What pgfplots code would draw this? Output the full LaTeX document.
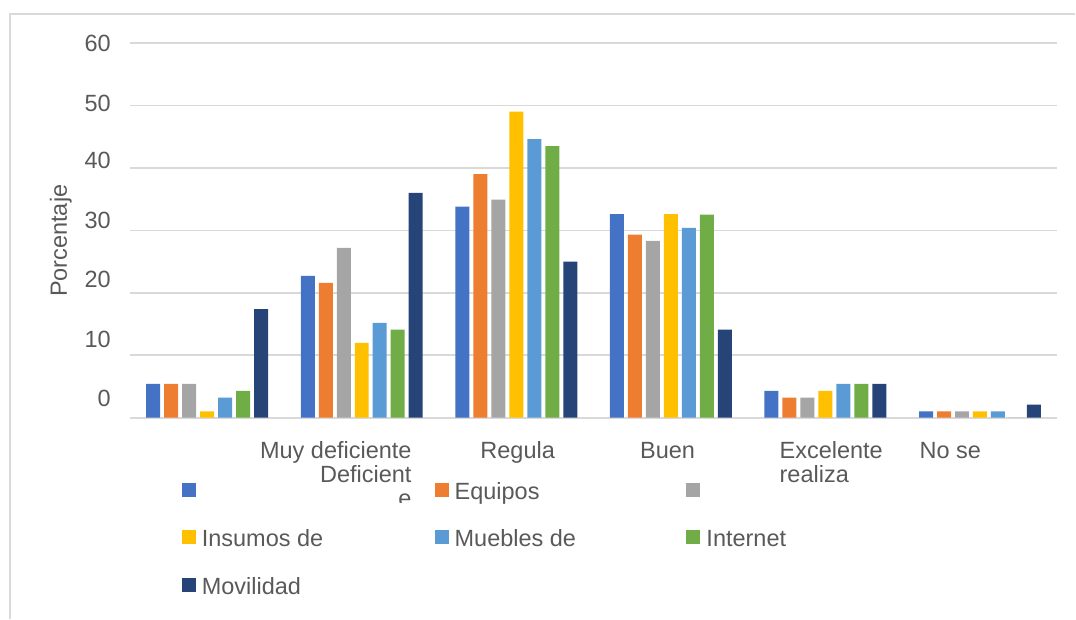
\documentclass[border=0pt]{standalone}
\usepackage{fontspec}
\setmainfont{Liberation Sans}
\usepackage{pgfplots}
\pgfplotsset{compat=1.18}

\definecolor{cBlue}{HTML}{4472C4}
\definecolor{cOrange}{HTML}{ED7D31}
\definecolor{cGray}{HTML}{A5A5A5}
\definecolor{cYellow}{HTML}{FFC000}
\definecolor{cLblue}{HTML}{5B9BD5}
\definecolor{cGreen}{HTML}{70AD47}
\definecolor{cNavy}{HTML}{264478}
\definecolor{txt}{HTML}{595959}
\definecolor{gridc}{HTML}{D9D9D9}

\newcommand{\fs}{\fontsize{23.5}{28}\selectfont}

\begin{document}
\begin{tikzpicture}[font=\fs, text=txt]
\path (0pt,0pt) rectangle (1076pt,-619pt);
\draw[gridc, line width=1.5pt] (10pt,-619pt) -- (10pt,-14pt) -- (1076pt,-14pt);

\begin{axis}[
    at={(130pt,-418pt)}, anchor=south west,
    scale only axis, width=928pt, height=375pt,
    xmin=-0.5, xmax=5.5, ymin=0, ymax=60,
    ybar=4pt, bar width=14pt,
    axis line style={draw=none},
    tick style={draw=none},
    xtick=\empty,
    % labels sit a little off the grid lines, as in the original
    ytick={3.12,12.56,22.16,31.52,41.12,50.4,59.92},
    yticklabels={0,10,20,30,40,50,60},
    yticklabel style={inner sep=0pt, anchor=east, xshift=-19pt, font=\fs, text=txt},
    /pgf/number format/assume math mode=true,
    extra y ticks={0,10,20,30,40,50,60},
    extra y tick labels={},
    extra y tick style={grid=major},
    major grid style={gridc, line width=1.6pt},
    legend columns=3,
    legend cell align=left,
    legend image code/.code={\fill[#1] (0pt,-3.5pt) rectangle (14pt,10.5pt);},
    legend style={at={(0.0560,-0.1720)}, anchor=north west, draw=none, fill=none,
        inner sep=0pt, outer sep=0pt, column sep=6pt, row sep=25.5pt, font=\fs, text=txt,
        nodes={inner sep=0pt, text height=17pt, text depth=5pt}},
]
\addplot[fill=cBlue, draw=none] coordinates {(0,5.4) (1,22.7) (2,33.8) (3,32.6) (4,4.3) (5,1.0)};
\addlegendentry{\makebox[227pt][l]{}}
\addplot[fill=cOrange, draw=none] coordinates {(0,5.4) (1,21.6) (2,39.0) (3,29.3) (4,3.2) (5,1.0)};
\addlegendentry{\makebox[226pt][l]{Equipos}}
\addplot[fill=cGray, draw=none] coordinates {(0,5.4) (1,27.2) (2,34.9) (3,28.3) (4,3.2) (5,1.0)};
\addlegendentry{}
\addplot[fill=cYellow, draw=none] coordinates {(0,1.0) (1,12.0) (2,49.0) (3,32.6) (4,4.3) (5,1.0)};
\addlegendentry{Insumos de}
\addplot[fill=cLblue, draw=none] coordinates {(0,3.2) (1,15.2) (2,44.6) (3,30.4) (4,5.4) (5,1.0)};
\addlegendentry{Muebles de}
\addplot[fill=cGreen, draw=none] coordinates {(0,4.3) (1,14.1) (2,43.5) (3,32.5) (4,5.4) (5,0)};
\addlegendentry{Internet}
\addplot[fill=cNavy, draw=none] coordinates {(0,17.4) (1,36.0) (2,25.0) (3,14.1) (4,5.4) (5,2.1)};
\addlegendentry{Movilidad}
\end{axis}

% category labels, placed as in the original
\node[anchor=base east, inner sep=0pt] at (412pt,-459pt) {Muy deficiente};
\node[anchor=base east, inner sep=0pt] at (412pt,-483pt) {Deficient};
\begin{scope}
  \clip (380pt,-490pt) rectangle (420pt,-503pt);
  \node[anchor=base east, inner sep=0pt] at (412pt,-507pt) {e};
\end{scope}
\node[anchor=base, inner sep=0pt] at (518pt,-459pt) {Regula};
\node[anchor=base, inner sep=0pt] at (668pt,-459pt) {Buen};
\node[anchor=base west, inner sep=0pt] at (780pt,-459pt) {Excelente};
\node[anchor=base west, inner sep=0pt] at (780pt,-483pt) {realiza};
\node[anchor=base west, inner sep=0pt] at (920pt,-459pt) {No se};

\node[rotate=90, anchor=base, inner sep=0pt] at (67pt,-241pt) {Porcentaje};
\end{tikzpicture}
\end{document}
